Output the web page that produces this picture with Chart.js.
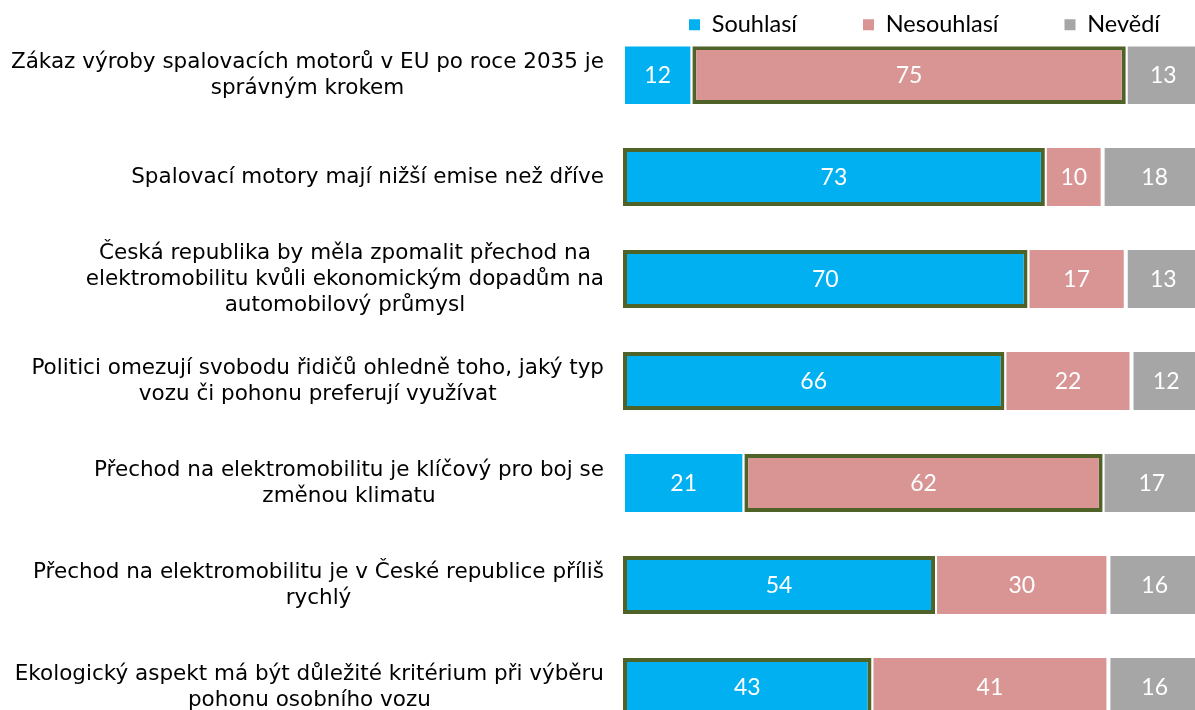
<!DOCTYPE html>
<html>
<head>
<meta charset="utf-8">
<script src="https://cdn.jsdelivr.net/npm/chart.js@4.4.0/dist/chart.umd.min.js"></script>
<style>
  html, body { margin: 0; padding: 0; background: #fff; overflow: hidden; }
  #wrap { width: 1250px; height: 738px; }
</style>
</head>
<body>
<div id="wrap"><canvas id="myChart"></canvas></div>
<script>
// otázky (každý řádek popisku zvlášť)
const otazky = [
  ["Zákaz výroby spalovacích motorů v EU po roce 2035 je", "správným krokem"],
  ["Spalovací motory mají nižší emise než dříve"],
  ["Česká republika by měla zpomalit přechod na", "elektromobilitu kvůli ekonomickým dopadům na", "automobilový průmysl"],
  ["Politici omezují svobodu řidičů ohledně toho, jaký typ", "vozu či pohonu preferují využívat"],
  ["Přechod na elektromobilitu je klíčový pro boj se", "změnou klimatu"],
  ["Přechod na elektromobilitu je v České republice příliš", "rychlý"],
  ["Ekologický aspekt má být důležité kritérium při výběru", "pohonu osobního vozu"]
];
const souhlasi = [12, 73, 70, 66, 21, 54, 43];
const nesouhlasi = [75, 10, 17, 22, 62, 30, 41];
const nevedi = [13, 18, 13, 12, 17, 16, 16];
const nazvy = ["Souhlasí", "Nesouhlasí", "Nevědí"];
const barvy = ["#00B0F0", "#D99594", "#A6A6A6"];
const zelena = "#4F6228";

const vsechny = [souhlasi, nesouhlasi, nevedi];

/* je hodnota nejvetsi v radku? */
function jeMax(i, ds) {
  const row = vsechny.map(s => s[i]);
  return vsechny[ds][i] === Math.max(...row);
}

/* popisky os Y - radky centrovane v bloku */
const popiskyY = {
  id: "popiskyY",
  afterDraw(chart) {
    const ctx = chart.ctx;
    const y = chart.scales.y;
    const lh = 26;
    ctx.save();
    ctx.font = "21.5px 'DejaVu Sans'";
    ctx.fillStyle = "#000";
    ctx.textAlign = "center";
    ctx.textBaseline = "middle";
    otazky.forEach((lines, i) => {
      const py = y.getPixelForValue(i);
      const widest = Math.max(...lines.map(l => ctx.measureText(l).width));
      const cx = y.right - 19 - widest / 2;
      lines.forEach((l, j) => {
        ctx.fillText(l, cx, py + (j - (lines.length - 1) / 2) * lh);
      });
    });
    ctx.restore();
  }
};

/* hodnoty do sloupcu */
const hodnoty = {
  id: "hodnoty",
  afterDatasetsDraw(chart) {
    const ctx = chart.ctx;
    ctx.save();
    ctx.font = "23px Lato";
    ctx.fillStyle = "#fff";
    ctx.textAlign = "center";
    ctx.textBaseline = "middle";
    chart.data.datasets.forEach((ds, d) => {
      chart.getDatasetMeta(d).data.forEach((el, i) => {
        const p = el.getCenterPoint();
        ctx.fillText(ds.data[i].x, p.x, p.y + 1);
      });
    });
    ctx.restore();
  }
};

const datasets = vsechny.map((serie, d) => ({
  label: nazvy[d],
  data: serie.map((v, i) => ({ x: v, y: i })),
  backgroundColor: barvy[d],
  borderColor: c => jeMax(c.dataIndex, d) ? zelena : "#fff",
  borderWidth: c => jeMax(c.dataIndex, d) ? 4 : { left: 2, right: 2, top: 0, bottom: 0 },
  borderSkipped: false,
  inflateAmount: 0,
  barThickness: 58
}));

const ctx = document.getElementById("myChart").getContext("2d");
const myChart = new Chart(ctx, {
  type: "bar",
  data: { datasets },
  options: {
    indexAxis: "y",
    responsive: true,
    maintainAspectRatio: false,
    animation: false,
    layout: { padding: { top: -53, left: 0, right: 0, bottom: 0 } },
    scales: {
      x: { type: "linear", stacked: true, min: 0, max: 108.5, display: false },
      y: {
        type: "linear",
        reverse: true,
        stacked: true,
        offset: false,
        min: -0.2794,
        max: 6.5,
        grid: { display: false },
        border: { display: false },
        ticks: { display: false },
        afterFit(scale) { scale.width = 623; }
      }
    },
    plugins: {
      legend: {
        position: "top",
        align: "start",
        fullSize: false,
        labels: {
          boxWidth: 11,
          boxHeight: 11,
          padding: 66,
          color: "#000",
          font: { family: "Lato", size: 23.5 },
          generateLabels: (chart) => chart.data.datasets.map((ds, i) => ({
            text: ds.label,
            fillStyle: barvy[i],
            strokeStyle: barvy[i],
            lineWidth: 0,
            hidden: false,
            datasetIndex: i
          }))
        }
      },
      tooltip: { enabled: false }
    }
  },
  plugins: [popiskyY, hodnoty]
});
</script>
</body>
</html>
